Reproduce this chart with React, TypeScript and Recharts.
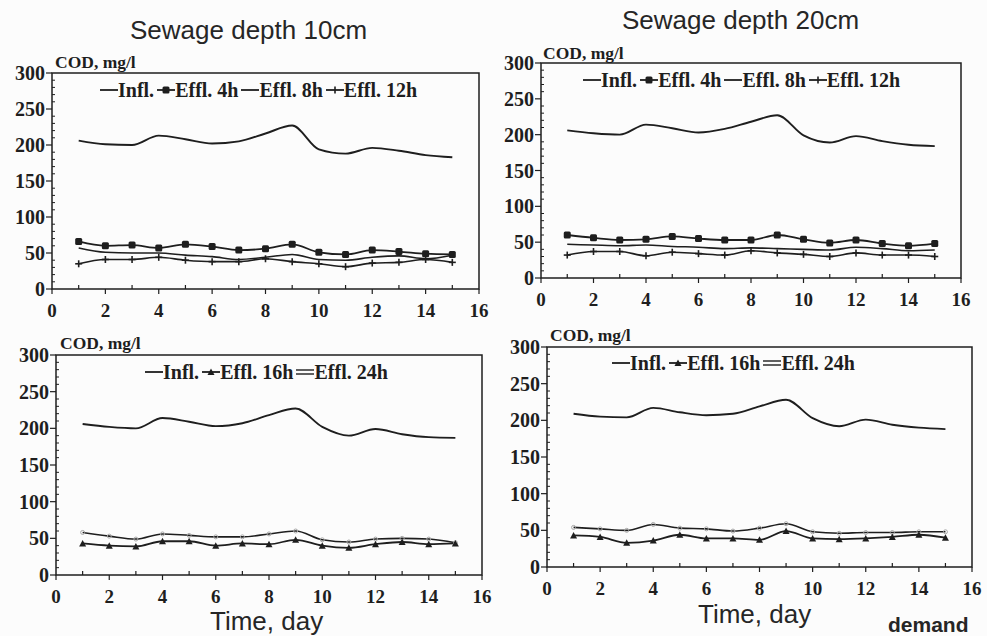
import { LineChart, Line, XAxis, YAxis, ReferenceArea } from "recharts";

// days 1..15, COD in mg/l
const DAYS = [1, 2, 3, 4, 5, 6, 7, 8, 9, 10, 11, 12, 13, 14, 15];

// sewage depth 10cm, 4h/8h/12h
const INFL_10A = [206, 201, 200, 213, 208, 202, 205, 216, 227, 194, 188, 196, 192, 186, 183];
const EFFL4_10 = [66, 60, 61, 57, 62, 59, 54, 56, 62, 51, 48, 54, 52, 49, 48];
const EFFL8_10 = [57, 51, 50, 50, 47, 45, 41, 44, 48, 41, 40, 44, 46, 42, 47];
const EFFL12_10 = [35, 41, 41, 44, 40, 38, 38, 42, 38, 35, 31, 36, 37, 41, 37];

// sewage depth 20cm, 4h/8h/12h
const INFL_20A = [206, 202, 200, 214, 209, 203, 208, 218, 227, 199, 189, 198, 191, 186, 184];
const EFFL4_20 = [60, 56, 53, 54, 58, 55, 53, 53, 60, 54, 49, 53, 48, 45, 48];
const EFFL8_20 = [47, 46, 45, 46, 44, 43, 41, 42, 41, 40, 39, 43, 41, 38, 39];
const EFFL12_20 = [32, 37, 37, 31, 36, 34, 32, 38, 35, 33, 30, 35, 32, 32, 30];

// sewage depth 10cm, 16h/24h
const INFL_10B = [206, 202, 200, 214, 209, 203, 207, 218, 227, 202, 190, 199, 192, 188, 187];
const EFFL16_10 = [43, 40, 39, 46, 46, 40, 43, 42, 48, 40, 37, 42, 45, 42, 43];
const EFFL24_10 = [58, 53, 49, 56, 54, 52, 52, 56, 60, 48, 45, 49, 50, 49, 44];

// sewage depth 20cm, 16h/24h
const INFL_20B = [209, 205, 204, 217, 211, 207, 209, 219, 228, 203, 192, 201, 194, 190, 188];
const EFFL16_20 = [43, 41, 33, 36, 44, 39, 39, 37, 49, 39, 38, 39, 41, 44, 40];
const EFFL24_20 = [54, 52, 50, 58, 53, 52, 49, 53, 59, 48, 46, 47, 47, 48, 48];

const X_TICKS = [0, 1, 2, 3, 4, 5, 6, 7, 8, 9, 10, 11, 12, 13, 14, 15, 16];
const Y_TICKS = [0, 10, 20, 30, 40, 50, 60, 70, 80, 90, 100, 110, 120, 130, 140, 150,
  160, 170, 180, 190, 200, 210, 220, 230, 240, 250, 260, 270, 280, 290, 300];

const INK = "#1e1e1e";
const SERIF = "'Liberation Serif', 'Times New Roman', serif";
const SANS = "'Liberation Sans', Arial, sans-serif";

const rows10a = DAYS.map((d, i) => ({ day: d, infl: INFL_10A[i], e4: EFFL4_10[i], e8: EFFL8_10[i], e12: EFFL12_10[i] }));
const rows20a = DAYS.map((d, i) => ({ day: d, infl: INFL_20A[i], e4: EFFL4_20[i], e8: EFFL8_20[i], e12: EFFL12_20[i] }));
const rows10b = DAYS.map((d, i) => ({ day: d, infl: INFL_10B[i], e16: EFFL16_10[i], e24: EFFL24_10[i] }));
const rows20b = DAYS.map((d, i) => ({ day: d, infl: INFL_20B[i], e16: EFFL16_20[i], e24: EFFL24_20[i] }));

function SquareDot({ cx, cy }: any) {
  if (cx == null || cy == null) return null;
  return <rect x={cx - 3.5} y={cy - 3.5} width={7} height={7} rx={1.5} fill={INK} />;
}
function PlusDot({ cx, cy }: any) {
  if (cx == null || cy == null) return null;
  return (
    <g stroke={INK} strokeWidth={1.6}>
      <line x1={cx - 3.5} y1={cy} x2={cx + 3.5} y2={cy} />
      <line x1={cx} y1={cy - 3.5} x2={cx} y2={cy + 3.5} />
    </g>
  );
}
function TriDot({ cx, cy }: any) {
  if (cx == null || cy == null) return null;
  return <path d={`M${cx - 3.5},${cy + 3} L${cx + 3.5},${cy + 3} L${cx},${cy - 3.5} Z`} fill={INK} />;
}
function RingDot({ cx, cy }: any) {
  if (cx == null || cy == null) return null;
  return <circle cx={cx} cy={cy} r={2} fill="none" stroke="#a8a8a8" strokeWidth={1} />;
}

const dotOf = (Comp: any) => (p: any) => <Comp key={`d${p.index}`} cx={p.cx} cy={p.cy} />;

function XTick({ x, payload, axisY }: any) {
  const v = payload.value;
  if (v % 2 !== 0) return <line x1={x} y1={axisY} x2={x} y2={axisY - 4} stroke={INK} strokeWidth={1.2} />;
  return (
    <g>
      <line x1={x} y1={axisY} x2={x} y2={axisY + 5} stroke={INK} strokeWidth={1.2} />
      <text x={x} y={axisY + 28} textAnchor="middle" fontFamily={SERIF} fontWeight={700} fontSize={19} fill={INK}>{v}</text>
    </g>
  );
}

function YTick({ y, payload, axisX }: any) {
  const v = payload.value;
  if (v % 50 !== 0) return <line x1={axisX} y1={y} x2={axisX + 3} y2={y} stroke={INK} strokeWidth={1} />;
  return (
    <g>
      <line x1={axisX - 6} y1={y} x2={axisX} y2={y} stroke={INK} strokeWidth={1.2} />
      <text x={axisX - 7} y={y} dy="0.35em" textAnchor="end" fontFamily={SERIF} fontWeight={700} fontSize={20} fill={INK}>{v}</text>
    </g>
  );
}

type Sym = "line" | "square" | "plus" | "tri" | "double";

function LegendSym({ kind }: { kind: Sym }) {
  return (
    <svg width={18} height={12} style={{ display: "block" }}>
      {kind === "double" ? (
        <g stroke={INK} strokeWidth={1.4}>
          <line x1={0} y1={4} x2={18} y2={4} />
          <line x1={0} y1={8} x2={18} y2={8} />
        </g>
      ) : (
        <line x1={0} y1={6} x2={18} y2={6} stroke={INK} strokeWidth={1.8} />
      )}
      {kind === "square" && <rect x={5.5} y={2.5} width={7} height={7} rx={1.5} fill={INK} />}
      {kind === "plus" && <line x1={9} y1={2.5} x2={9} y2={9.5} stroke={INK} strokeWidth={1.6} />}
      {kind === "tri" && <path d="M5.5,9 L12.5,9 L9,2.5 Z" fill={INK} />}
    </svg>
  );
}

function LegendRow({ left, top, items }: { left: number; top: number; items: { kind: Sym; label: string }[] }) {
  return (
    <div style={{ position: "absolute", left, top, display: "flex", alignItems: "center", whiteSpace: "nowrap",
      fontFamily: SERIF, fontWeight: 700, fontSize: 20, lineHeight: "20px", color: INK }}>
      {items.map((it) => (
        <span key={it.label} style={{ display: "flex", alignItems: "center" }}>
          <LegendSym kind={it.kind} />
          <span style={{ marginRight: 3 }}>{it.label}</span>
        </span>
      ))}
    </div>
  );
}

type SeriesDef = { key: string; width: number; dot: any };

function Panel({ left, top, width, height, yw, xh, mt, mr, data, series }: {
  left: number; top: number; width: number; height: number; yw: number; xh: number; mt: number; mr: number;
  data: any[]; series: SeriesDef[];
}) {
  const axisY = height - xh;
  return (
    <div style={{ position: "absolute", left, top }}>
      <LineChart width={width} height={height} data={data} margin={{ top: mt, right: mr, bottom: 0, left: 0 }}>
        <XAxis dataKey="day" type="number" domain={[0, 16]} ticks={X_TICKS} interval={0} height={xh}
          axisLine={false} tickLine={false} tick={(p: any) => <XTick x={p.x} payload={p.payload} axisY={axisY} />} />
        <YAxis type="number" domain={[0, 300]} ticks={Y_TICKS} interval={0} width={yw}
          axisLine={false} tickLine={false} tick={(p: any) => <YTick y={p.y} payload={p.payload} axisX={yw} />} />
        <ReferenceArea x1={0} x2={16} y1={0} y2={300} fill="none" stroke={INK} strokeWidth={1.5} ifOverflow="visible" />
        {series.map((s) => (
          <Line key={s.key} dataKey={s.key} type="monotone" stroke={INK} strokeWidth={s.width}
            dot={s.dot} activeDot={false} isAnimationActive={false} />
        ))}
      </LineChart>
    </div>
  );
}

const SERIES_A: SeriesDef[] = [
  { key: "infl", width: 1.9, dot: false },
  { key: "e8", width: 1.6, dot: false },
  { key: "e12", width: 1.6, dot: dotOf(PlusDot) },
  { key: "e4", width: 1.8, dot: dotOf(SquareDot) },
];
const SERIES_B: SeriesDef[] = [
  { key: "infl", width: 1.9, dot: false },
  { key: "e24", width: 1.6, dot: dotOf(RingDot) },
  { key: "e16", width: 1.8, dot: dotOf(TriDot) },
];

const LEGEND_A = [
  { kind: "line" as Sym, label: "Infl." },
  { kind: "square" as Sym, label: "Effl. 4h" },
  { kind: "line" as Sym, label: "Effl. 8h" },
  { kind: "plus" as Sym, label: "Effl. 12h" },
];
const LEGEND_B = [
  { kind: "line" as Sym, label: "Infl." },
  { kind: "tri" as Sym, label: "Effl. 16h" },
  { kind: "double" as Sym, label: "Effl. 24h" },
];

const codStyle = { position: "absolute" as const, fontFamily: SERIF, fontWeight: 700, fontSize: 17.5, lineHeight: "20px", color: INK };
const titleStyle = { position: "absolute" as const, fontFamily: SANS, fontSize: 26, lineHeight: 1, color: "#262626", whiteSpace: "nowrap" as const };

export default function App() {
  return (
    <div style={{ position: "absolute", left: 0, top: 0, width: 987, height: 636, background: "#fcfcfc", overflow: "hidden" }}>
      <div style={{ ...titleStyle, left: 130, top: 17 }}>Sewage depth 10cm</div>
      <div style={{ ...titleStyle, left: 622, top: 7 }}>Sewage depth 20cm</div>

      <Panel left={0} top={40} width={490} height={290} yw={52} xh={41} mt={33} mr={11} data={rows10a} series={SERIES_A} />
      <Panel left={490} top={30} width={497} height={290} yw={51} xh={42} mt={33} mr={26} data={rows20a} series={SERIES_A} />
      <Panel left={0} top={320} width={495} height={290} yw={56} xh={35} mt={35} mr={13} data={rows10b} series={SERIES_B} />
      <Panel left={490} top={315} width={497} height={290} yw={57} xh={38} mt={32} mr={15} data={rows20b} series={SERIES_B} />

      <div style={{ ...codStyle, left: 55, top: 52 }}>COD, mg/l</div>
      <div style={{ ...codStyle, left: 543, top: 43 }}>COD, mg/l</div>
      <div style={{ ...codStyle, left: 60, top: 333 }}>COD, mg/l</div>
      <div style={{ ...codStyle, left: 550, top: 325 }}>COD, mg/l</div>

      <LegendRow left={100} top={80} items={LEGEND_A} />
      <LegendRow left={583} top={70} items={LEGEND_A} />
      <LegendRow left={145} top={362} items={LEGEND_B} />
      <LegendRow left={612} top={353} items={LEGEND_B} />

      <div style={{ ...titleStyle, left: 210, top: 608 }}>Time, day</div>
      <div style={{ ...titleStyle, left: 698, top: 601 }}>Time, day</div>
      <div style={{ ...titleStyle, left: 888, top: 614, fontWeight: 700, fontSize: 21 }}>demand</div>
    </div>
  );
}
